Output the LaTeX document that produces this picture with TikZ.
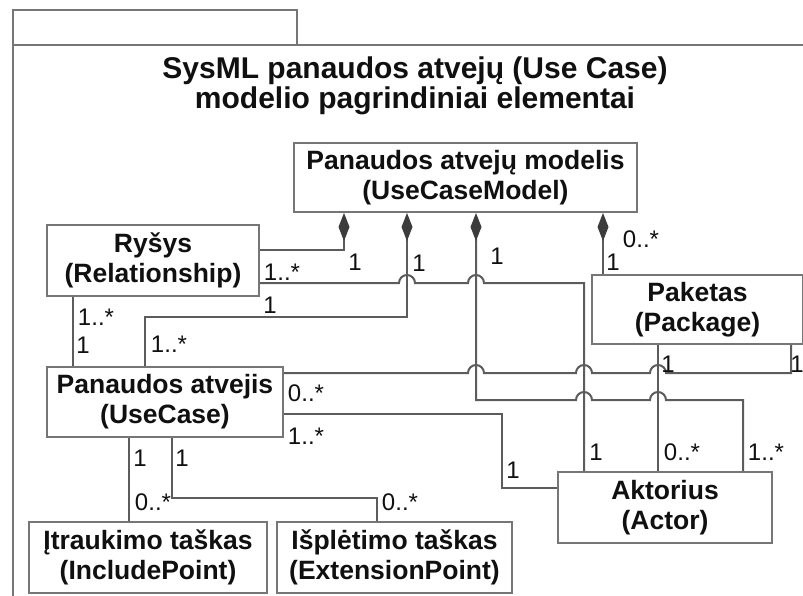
\documentclass[tikz,border=0pt]{standalone}
\usepackage{fontspec}
\setmainfont{Liberation Sans}
\usetikzlibrary{arrows.meta}
\definecolor{linegray}{HTML}{5C5C5C}
\definecolor{boxgray}{HTML}{767676}
\definecolor{diagray}{HTML}{3C3C3C}
\definecolor{ink}{HTML}{101010}

\begin{document}
\begin{tikzpicture}[x=1pt, y=-1pt, line width=2pt,
    block/.style={draw=boxgray, fill=white, align=center, inner sep=0pt, text=ink,
      font=\fontsize{26.5}{30}\selectfont\bfseries},
    mult/.style={inner sep=0pt, text=ink, font=\fontsize{24}{26}\selectfont},
    link/.style={draw=linegray},
    comp/.style={link, arrows={Diamond[length=28pt, width=11pt, color=diagray]-}},
    hop/.style={insert path={arc[start angle=180, end angle=360, radius=8]}}]
    \useasboundingbox (0,0) rectangle (803,596);

    % frame
    \draw[boxgray] (13,45) -- (13,10) -- (297,10) -- (297,45);
    \draw[boxgray] (803,45) -- (13,45) -- (13,596);
    \node[inner sep=0pt, align=center, text=ink, font=\fontsize{30}{30}\selectfont\bfseries]
      (title) at (415,86) {SysML panaudos atvejų (Use Case)\\modelio pagrindiniai elementai};

    % classes
    \node[block, minimum width=343pt, minimum height=69pt] (model) at (465.5,177.5)
      {Panaudos atvejų modelis\\(UseCaseModel)};
    \node[block, minimum width=212pt, minimum height=71pt] (rel) at (153,260.5)
      {Ryšys\\(Relationship)};
    \node[block, minimum width=236pt, minimum height=70pt] (uc) at (165,402)
      {Panaudos atvejis\\(UseCase)};
    \node[block, minimum width=211pt, minimum height=69pt] (pkg) at (697.5,309.5)
      {Paketas\\(Package)};
    \node[block, minimum width=214pt, minimum height=71pt] (act) at (665,507.5)
      {Aktorius\\(Actor)};
    \node[block, minimum width=238pt, minimum height=71pt] (inc) at (148,557.5)
      {Įtraukimo taškas\\(IncludePoint)};
    \node[block, minimum width=235pt, minimum height=71pt] (ext) at (394.5,557.5)
      {Išplėtimo taškas\\(ExtensionPoint)};

    % compositions from the model
    \draw[comp] (model.south -| 344,0) -- (344,250) -- (rel.east |- 0,250);
    \draw[comp] (model.south -| 407,0) -- (407,317) -| (uc.north -| 145,0);
    \draw[comp] (model.south -| 476,0) -- (476,400) -- (576,400) [hop]
      -- (650,400) [hop] -- (743,400) -- (act.north -| 743,0);
    \draw[comp] (model.south -| 603,0) -- (pkg.north -| 603,0);

    % associations
    \draw[link] (rel.east |- 0,283) -- (399,283) [hop] -- (468,283) [hop]
      -- (584,283) -- (act.north -| 584,0);
    \draw[link] (uc.east |- 0,373) -- (468,373) [hop] -- (576,373) [hop]
      -- (650,373) [hop] -- (791,373) -- (pkg.south -| 791,0);
    \draw[link] (pkg.south -| 658,0) -- (act.north -| 658,0);
    \draw[link] (uc.east |- 0,414) -- (502,414) |- (act.west |- 0,488);
    \draw[link] (rel.south -| 73,0) -- (uc.north -| 73,0);
    \draw[link] (uc.south -| 129,0) -- (inc.north -| 129,0);
    \draw[link] (uc.south -| 172,0) |- (377,498) -- (ext.north -| 377,0);

    % multiplicities
    \node[mult] (m1) at (355,262) {1};
    \node[mult] (m2) at (282,272) {1..*};
    \node[mult] (m3) at (270,305) {1};
    \node[mult] (m4) at (419,263) {1};
    \node[mult] (m5) at (497,256) {1};
    \node[mult] (m6) at (641,239) {0..*};
    \node[mult] (m7) at (613,262) {1};
    \node[mult] (m8) at (96,317) {1..*};
    \node[mult] (m9) at (83,345) {1};
    \node[mult] (m10) at (169,344) {1..*};
    \node[mult] (m11) at (306,393) {0..*};
    \node[mult] (m12) at (306,436) {1..*};
    \node[mult] (m13) at (513,470) {1};
    \node[mult] (m14) at (596,452) {1};
    \node[mult] (m15) at (682,452) {0..*};
    \node[mult] (m16) at (766,452) {1..*};
    \node[mult] (m17) at (668,364) {1};
    \node[mult] (m18) at (797,364) {1};
    \node[mult] (m19) at (140,458) {1};
    \node[mult] (m20) at (182,458) {1};
    \node[mult] (m21) at (153,502) {0..*};
    \node[mult] (m22) at (400,502) {0..*};
\end{tikzpicture}
\end{document}
